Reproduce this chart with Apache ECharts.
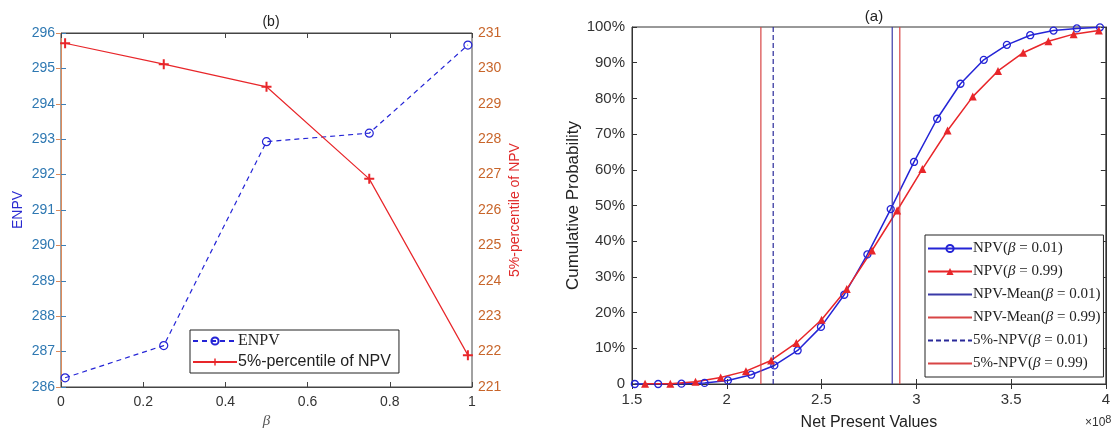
<!DOCTYPE html>
<html>
<head>
<meta charset="utf-8">
<script src="https://cdn.jsdelivr.net/npm/echarts@6/dist/echarts.min.js"></script>
<style>
html, body { margin: 0; padding: 0; background: #fff; }
#main { width: 1113px; height: 438px; }
</style>
</head>
<body>
<div id="main"></div>
<script>
// (b) left panel
var betaVals = [0.01, 0.25, 0.5, 0.75, 0.99];
var enpvVals = [286.26, 287.17, 292.93, 293.17, 295.66];
var pct5Vals = [230.71, 230.12, 229.48, 226.88, 221.9];

// (a) right panel, NPV in units of 1e8, cumulative probability in %
var npvX001 = [1.515, 1.638, 1.761, 1.883, 2.006, 2.129, 2.251, 2.374, 2.497, 2.620, 2.742, 2.865, 2.988, 3.110, 3.233, 3.356, 3.478, 3.601, 3.724, 3.847, 3.969];
var cdf001 = [0, 0, 0.1, 0.3, 1.0, 2.6, 5.2, 9.4, 16.0, 25.0, 36.3, 49.0, 62.2, 74.3, 84.1, 90.8, 95.0, 97.7, 99.0, 99.6, 99.9];
var npvX099 = [1.569, 1.702, 1.835, 1.968, 2.101, 2.234, 2.367, 2.500, 2.633, 2.766, 2.899, 3.032, 3.165, 3.298, 3.431, 3.564, 3.697, 3.830, 3.963];
var cdf099 = [0.1, 0.1, 0.6, 1.8, 3.6, 6.6, 11.5, 18.0, 26.6, 37.4, 48.6, 60.2, 71.0, 80.5, 87.7, 92.8, 96.0, 98.0, 99.0];
var meanNpv = [2.873, 2.913];   // beta = 0.01, 0.99
var pct5Npv = [2.245, 2.18];    // beta = 0.01, 0.99

var sans = 'Liberation Sans';
var serif = 'Liberation Serif';
var blue = '#2424d6';
var red = '#e8262a';
var none = 'rgba(0,0,0,0)';
var plus = 'path://M4,0h2v4h4v2h-4v4h-2v-4h-4v-2h4z';

function pairs(xs, ys) {
	var out = [];
	for (var i = 0; i < xs.length; i++) out.push([xs[i], ys[i]]);
	return out;
}
function vline(x) {
	return [[x, 0], [x, 100]];
}
function betaFmt(name) {
	return name.replace('β', '{i|β}');
}

var chart = echarts.init(document.getElementById('main'));

var option = {
	animation: false,
	backgroundColor: '#fff',
	title: [
		{ text: '(b)', left: 266, top: 10, textAlign: 'center', textStyle: { fontFamily: sans, fontSize: 14, fontWeight: 'normal', color: '#222' } },
		{ text: '(a)', left: 869, top: 4, textAlign: 'center', textStyle: { fontFamily: sans, fontSize: 15, fontWeight: 'normal', color: '#222' } }
	],
	grid: [
		{ left: 61, right: 641, top: 33, bottom: 51, show: true, borderColor: '#444', borderWidth: 1 },
		{ left: 632, right: 7, top: 27, bottom: 54, show: true, borderColor: '#333', borderWidth: 1 }
	],
	xAxis: [
		{
			gridIndex: 0, type: 'value', min: 0, max: 1, interval: 0.2,
			name: 'β', nameLocation: 'middle', nameGap: 24,
			nameTextStyle: { fontFamily: serif, fontStyle: 'italic', fontSize: 15, color: '#555' },
			axisLine: { lineStyle: { color: '#444' } },
			axisTick: { inside: true, length: 5, lineStyle: { color: '#444' } },
			axisLabel: { fontFamily: sans, fontSize: 14, color: '#333', margin: 8 },
			splitLine: { show: false }
		},
		{
			gridIndex: 0, type: 'value', position: 'top', min: 0, max: 1, interval: 0.2,
			axisLine: { lineStyle: { color: '#444' } },
			axisTick: { inside: true, length: 5, lineStyle: { color: '#444' } },
			axisLabel: { show: false }, splitLine: { show: false }
		},
		{
			gridIndex: 1, type: 'value', min: 1.5, max: 4, interval: 0.5,
			name: 'Net Present Values', nameLocation: 'middle', nameGap: 31,
			nameTextStyle: { fontFamily: sans, fontSize: 16, color: '#222' },
			axisLine: { lineStyle: { color: '#333' } },
			axisTick: { inside: true, length: 5, lineStyle: { color: '#333' } },
			axisLabel: { fontFamily: sans, fontSize: 15, color: '#333', margin: 8 },
			splitLine: { show: false }
		},
		{
			gridIndex: 1, type: 'value', position: 'top', min: 1.5, max: 4, interval: 0.5,
			axisLine: { lineStyle: { color: '#333' } },
			axisTick: { inside: true, length: 5, lineStyle: { color: '#333' } },
			axisLabel: { show: false }, splitLine: { show: false }
		}
	],
	yAxis: [
		{
			gridIndex: 0, type: 'value', min: 286, max: 296, interval: 1,
			name: 'ENPV', nameLocation: 'middle', nameGap: 36,
			nameTextStyle: { fontFamily: sans, fontSize: 14, color: '#2a2ad0' },
			axisLine: { lineStyle: { color: '#3d7fb8' } },
			axisTick: { inside: true, length: 5, lineStyle: { color: '#3d7fb8' } },
			axisLabel: { fontFamily: sans, fontSize: 14, color: '#2e78b2', margin: 6 },
			splitLine: { show: false }
		},
		{
			gridIndex: 0, type: 'value', position: 'right', min: 221, max: 231, interval: 1,
			name: '5%-percentile of NPV', nameLocation: 'middle', nameGap: 36, nameRotate: 90,
			nameTextStyle: { fontFamily: sans, fontSize: 14, color: '#e02a2a' },
			axisLine: { lineStyle: { color: '#dc8a5a' } },
			axisTick: { inside: true, length: 5, lineStyle: { color: '#dc8a5a' } },
			axisLabel: { fontFamily: sans, fontSize: 14, color: '#c8652a', margin: 6 },
			splitLine: { show: false }
		},
		{
			gridIndex: 1, type: 'value', min: 0, max: 100, interval: 10,
			name: 'Cumulative Probability', nameLocation: 'middle', nameGap: 50,
			nameTextStyle: { fontFamily: sans, fontSize: 17, color: '#222' },
			axisLine: { lineStyle: { color: '#333' } },
			axisTick: { inside: true, length: 5, lineStyle: { color: '#333' } },
			axisLabel: {
				fontFamily: sans, fontSize: 15, color: '#333', margin: 7,
				formatter: function (v) { return v === 0 ? '0' : v + '%'; }
			},
			splitLine: { show: false }
		},
		{
			gridIndex: 1, type: 'value', position: 'right', min: 0, max: 100, interval: 10,
			axisLine: { lineStyle: { color: '#333' } },
			axisTick: { inside: true, length: 5, lineStyle: { color: '#333' } },
			axisLabel: { show: false }, splitLine: { show: false }
		}
	],
	legend: [
		{
			left: 190, top: 330, orient: 'vertical',
			borderColor: '#222', borderWidth: 1, backgroundColor: '#fff',
			padding: [3, 8, 3, 2], itemGap: 5, itemWidth: 44, itemHeight: 9,
			textStyle: { fontSize: 16, color: '#222', padding: [0, 0, 0, -4] },
			data: [
				{ name: 'ENPV', textStyle: { fontFamily: serif } },
				{ name: '5%-percentile of NPV', textStyle: { fontFamily: sans } }
			]
		},
		{
			left: 925, top: 235, orient: 'vertical',
			borderColor: '#222', borderWidth: 1, backgroundColor: '#fff',
			padding: [6, 3, 6, 2], itemGap: 8, itemWidth: 44, itemHeight: 9,
			textStyle: {
				fontFamily: serif, fontSize: 15, color: '#222', padding: [0, 0, 0, -4],
				rich: { i: { fontFamily: serif, fontStyle: 'italic', fontSize: 15, color: '#222' } }
			},
			formatter: betaFmt,
			data: ['NPV(β = 0.01)', 'NPV(β = 0.99)', 'NPV-Mean(β = 0.01)', 'NPV-Mean(β = 0.99)', '5%-NPV(β = 0.01)', '5%-NPV(β = 0.99)']
		}
	],
	graphic: [
		{
			type: 'text', left: 1085, top: 414,
			style: {
				text: '×10{s|8}', fontFamily: sans, fontSize: 12, fill: '#333',
				rich: { s: { fontFamily: sans, fontSize: 11, fill: '#333', verticalAlign: 'top', padding: [0, 0, 6, 0] } }
			}
		}
	],
	series: [
		{
			name: 'ENPV', type: 'line', xAxisIndex: 0, yAxisIndex: 0,
			data: pairs(betaVals, enpvVals),
			symbol: 'circle', symbolSize: 8,
			itemStyle: { color: none, borderColor: blue, borderWidth: 1.2 },
			lineStyle: { color: blue, width: 1.2, type: [5, 4] }
		},
		{
			name: '5%-percentile of NPV', type: 'line', xAxisIndex: 0, yAxisIndex: 1,
			data: pairs(betaVals, pct5Vals),
			symbol: plus, symbolSize: 10,
			itemStyle: { color: red },
			lineStyle: { color: red, width: 1.2 }
		},
		{
			name: 'NPV(β = 0.01)', type: 'line', xAxisIndex: 2, yAxisIndex: 2,
			data: pairs(npvX001, cdf001),
			symbol: 'circle', symbolSize: 7,
			itemStyle: { color: none, borderColor: blue, borderWidth: 1.3 },
			lineStyle: { color: blue, width: 1.5 }, z: 3
		},
		{
			name: 'NPV(β = 0.99)', type: 'line', xAxisIndex: 2, yAxisIndex: 2,
			data: pairs(npvX099, cdf099),
			symbol: 'triangle', symbolSize: 8,
			itemStyle: { color: red },
			lineStyle: { color: red, width: 1.5 }, z: 3
		},
		{
			name: 'NPV-Mean(β = 0.01)', type: 'line', xAxisIndex: 2, yAxisIndex: 2,
			data: vline(meanNpv[0]), symbol: 'none',
			itemStyle: { color: none, borderWidth: 0 },
			lineStyle: { color: '#3a3aa8', width: 1.2 }
		},
		{
			name: 'NPV-Mean(β = 0.99)', type: 'line', xAxisIndex: 2, yAxisIndex: 2,
			data: vline(meanNpv[1]), symbol: 'none',
			itemStyle: { color: none, borderWidth: 0 },
			lineStyle: { color: '#d84545', width: 1.2 }
		},
		{
			name: '5%-NPV(β = 0.01)', type: 'line', xAxisIndex: 2, yAxisIndex: 2,
			data: vline(pct5Npv[0]), symbol: 'none',
			itemStyle: { color: none, borderWidth: 0 },
			lineStyle: { color: '#2a2a9a', width: 1.2, type: [5, 3] }
		},
		{
			name: '5%-NPV(β = 0.99)', type: 'line', xAxisIndex: 2, yAxisIndex: 2,
			data: vline(pct5Npv[1]), symbol: 'none',
			itemStyle: { color: none, borderWidth: 0 },
			lineStyle: { color: '#d84545', width: 1.2 }
		}
	]
};

chart.setOption(option);
</script>
</body>
</html>
